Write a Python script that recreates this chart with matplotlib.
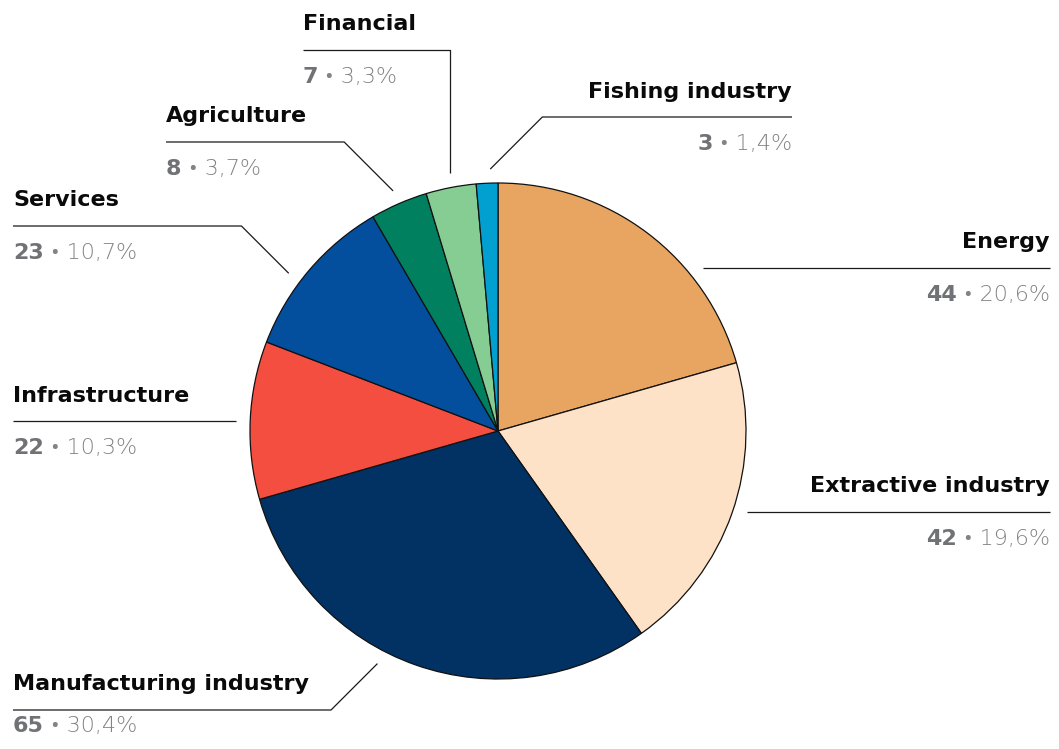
import numpy as np
import matplotlib
matplotlib.use("Agg")
import matplotlib.pyplot as plt

# Sectors and number of projects
sectors = ["Energy", "Extractive industry", "Manufacturing industry", "Infrastructure",
           "Services", "Agriculture", "Financial", "Fishing industry"]
counts = [44, 42, 65, 22, 23, 8, 7, 3]
colors = ["#E8A562", "#FDE2C8", "#013263", "#F44E41", "#034E9D", "#01805F", "#86CD94", "#02A0D1"]

# Label layout (pixel space, y measured from the top)
label_side = ["right", "right", "left", "left", "left", "left", "left", "right"]
label_x = [1050, 1050, 13, 13, 13, 166, 303, 792]
line_y = [268, 512, 710, 421, 226, 142, 50, 117]
anchor_deg = [None, None, 242.6, None, 143.0, 113.6, 100.5, 91.7]  # None -> anchor at line height
bend = [1, 1, 1, 1, 1, 1, 0, 1]  # 1: 45 degree elbow, 0: vertical

W, H = 1059, 749
CX, CY, R = 498, 431, 248
R_LEAD = 262

LIGHT_FAMILY = ["DejaVu Sans", "Noto Sans", "Open Sans"]


def yy(py):
    return H - py


fig = plt.figure(figsize=(W / 100, H / 100), dpi=100)
ax = fig.add_axes([0, 0, 1, 1])

ax.pie(counts, colors=colors, startangle=90, counterclock=False,
       center=(CX, yy(CY)), radius=R,
       wedgeprops=dict(edgecolor="#111111", linewidth=0.9))
ax.set_xlim(0, W)
ax.set_ylim(0, H)
ax.set_aspect("equal")
ax.axis("off")

total = sum(counts)
TITLE_FS = 16
VAL_FS = 16
fig.canvas.draw()
renderer = fig.canvas.get_renderer()
inv = ax.transData.inverted()


def width_data(t):
    bb = t.get_window_extent(renderer=renderer)
    (x0, _), (x1, _) = inv.transform([(bb.x0, 0), (bb.x1, 0)])
    return x1 - x0


for i, name in enumerate(sectors):
    side = label_side[i]
    ly = line_y[i]
    tx = label_x[i]
    ha = "left" if side == "left" else "right"

    # leader line
    if anchor_deg[i] is None:
        dy = CY - ly
        dx = np.sqrt(R_LEAD ** 2 - dy ** 2)
        ax_ = CX - dx if side == "left" else CX + dx
        ay_ = ly
    else:
        a = np.radians(anchor_deg[i])
        ax_ = CX + R_LEAD * np.cos(a)
        ay_ = CY - R_LEAD * np.sin(a)
    step = abs(ay_ - ly) * bend[i]
    ex = ax_ - step if side == "left" else ax_ + step
    xs = [tx, ex, ax_]
    ys = [ly, ly, ay_]
    ax.plot(xs, [yy(v) for v in ys], color="#1a1a1a", lw=0.9, solid_capstyle="butt")

    # title
    ax.text(tx, yy(ly - 19.5), name, ha=ha, va="baseline",
            fontsize=TITLE_FS, fontweight="bold", color="#0a0a0a")

    # value: bold count + light percentage
    pct = f"{counts[i] / total * 100:.1f}".replace(".", ",")
    vy = yy(min(ly + 33, 732))
    num = f"{counts[i]}"
    rest = f" \u2022 {pct}%"
    if side == "left":
        t1 = ax.text(tx, vy, num, ha="left", va="baseline", fontsize=VAL_FS,
                     fontweight="bold", color="#717275")
        ax.text(tx + width_data(t1), vy, rest, ha="left", va="baseline",
                fontsize=VAL_FS, fontweight="light", family=LIGHT_FAMILY,
                color="#838386")
    else:
        t2 = ax.text(tx, vy, rest, ha="right", va="baseline", fontsize=VAL_FS,
                     fontweight="light", family=LIGHT_FAMILY, color="#838386")
        ax.text(tx - width_data(t2), vy, num, ha="right", va="baseline",
                fontsize=VAL_FS, fontweight="bold", color="#717275")

fig.savefig("out.png", dpi=100, facecolor="white")
